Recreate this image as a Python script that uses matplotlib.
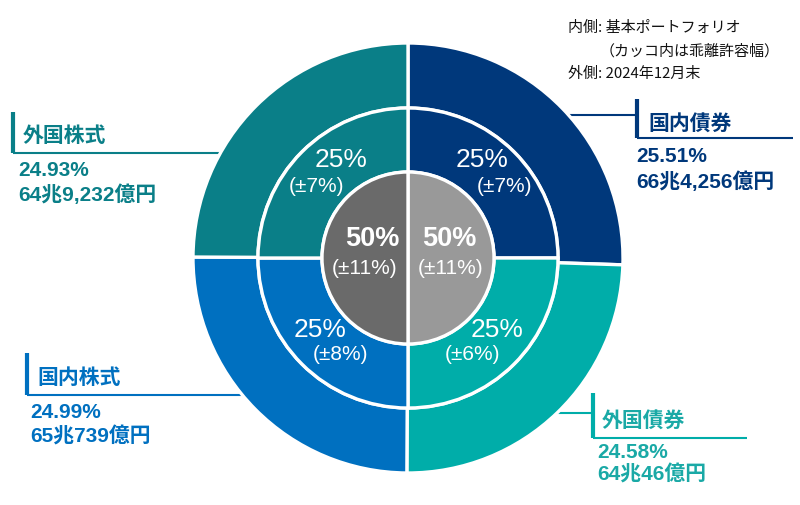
import matplotlib
matplotlib.use('Agg')
import matplotlib.pyplot as plt

# ---- data ----
categories = ['国内債券', '外国債券', '国内株式', '外国株式']
actual_pct = [25.51, 24.58, 24.99, 24.93]
actual_amount = ['66兆4,256億円', '64兆46億円', '65兆739億円', '64兆9,232億円']
policy_pct = [25, 25, 25, 25]
policy_band = [7, 6, 8, 7]
inner_groups = ['債券', '株式']
inner_pct = [50, 50]
inner_band = [11, 11]
note_lines = ['内側: 基本ポートフォリオ', '（カッコ内は乖離許容幅）', '外側: 2024年12月末']

# ---- style ----
colors = ['#00387B', '#00ADA9', '#0070C0', '#0A7F88']
text_colors = ['#00387B', '#1AA9A6', '#0070C0', '#0A7F88']
inner_colors = ['#999999', '#6A6A6A']
FONT = ['Liberation Sans', 'Noto Sans CJK JP', 'DejaVu Sans']
CJK = ['Noto Sans CJK JP', 'DejaVu Sans']

W, H = 800, 505
fig = plt.figure(figsize=(W / 100, H / 100), dpi=100)
ax = fig.add_axes([0, 0, 1, 1])

def Y(y):
    return H - y

cx, cy = 408, Y(258)
R1, R2, R3 = 215, 150, 86
ew = 2.4

callouts = {
    3: dict(lines=[((13, 153), (260, 153))], bar=((13, 112), (13, 153)),
            title=(23, 135), pct=(18, 171), amt=(18, 195)),
    2: dict(lines=[((27, 395), (270, 395))], bar=((27, 353), (27, 395)),
            title=(37, 377), pct=(30, 413), amt=(30, 437)),
    0: dict(lines=[((540, 115), (637, 115)), ((637, 138), (793, 138))], bar=((637, 99), (637, 138)),
            title=(648, 123), pct=(636, 157), amt=(636, 182)),
    1: dict(lines=[((530, 413), (593, 413)), ((593, 438), (747, 438))], bar=((593, 393), (593, 438)),
            title=(602, 420), pct=(597, 453), amt=(597, 475)),
}

for i, c in callouts.items():
    col = colors[i]
    for (x0, y0), (x1, y1) in c['lines']:
        ax.plot([x0, x1], [Y(y0), Y(y1)], color=col, lw=1.5, zorder=0, solid_capstyle='butt')
    (bx0, by0), (bx1, by1) = c['bar']
    ax.plot([bx0, bx1], [Y(by0), Y(by1)], color=col, lw=3.0, zorder=0, solid_capstyle='butt')
    tc = text_colors[i]
    ax.text(c['title'][0], Y(c['title'][1]), categories[i], fontsize=15, fontweight='bold',
            color=tc, family=CJK, ha='left', va='center', zorder=5)
    ax.text(c['pct'][0], Y(c['pct'][1]), f'{actual_pct[i]:.2f}%', fontsize=15, fontweight='bold',
            color=tc, family=FONT, ha='left', va='center', zorder=5)
    ax.text(c['amt'][0], Y(c['amt'][1]), actual_amount[i], fontsize=15, fontweight='bold',
            color=tc, family=FONT, ha='left', va='center', zorder=5)

# rings
ax.pie(actual_pct, radius=R1, center=(cx, cy), startangle=90, counterclock=False,
       colors=colors, wedgeprops=dict(width=R1 - R2, edgecolor='white', linewidth=ew))
ax.pie(policy_pct, radius=R2, center=(cx, cy), startangle=90, counterclock=False,
       colors=colors, wedgeprops=dict(width=R2 - R3, edgecolor='white', linewidth=ew))
ax.pie(inner_pct, radius=R3, center=(cx, cy), startangle=90, counterclock=False,
       colors=inner_colors, wedgeprops=dict(edgecolor='white', linewidth=ew))

# policy labels
policy_pos = [((482, 160), (505, 186)),
              ((497, 330), (472, 355)),
              ((320, 330), (341, 355)),
              ((341, 160), (316, 186))]
for i, ((px, py), (bx, by)) in enumerate(policy_pos):
    ax.text(px, Y(py), f'{policy_pct[i]}%', fontsize=19, color='white', family=FONT,
            ha='center', va='center', zorder=6)
    ax.text(bx, Y(by), f'(±{policy_band[i]}%)', fontsize=15, color='white', family=FONT,
            ha='center', va='center', zorder=6)

inner_pos = [((449, 239), (451, 268)), ((372, 239), (365, 268))]
for i, ((px, py), (bx, by)) in enumerate(inner_pos):
    ax.text(px, Y(py), f'{inner_pct[i]}%', fontsize=19.5, fontweight='bold', color='white',
            family=FONT, ha='center', va='center', zorder=6)
    ax.text(bx, Y(by), f'(±{inner_band[i]}%)', fontsize=15, color='white', family=FONT,
            ha='center', va='center', zorder=6)

# note
note_pos = [(568, 28), (600, 51), (568, 74)]
for (nx, ny), s in zip(note_pos, note_lines):
    ax.text(nx, Y(ny), s, fontsize=10.8, color='#111111', family=CJK, ha='left', va='center')

ax.set_xlim(0, W)
ax.set_ylim(0, H)
ax.set_aspect('equal')
ax.axis('off')
fig.savefig('out.png', dpi=100, facecolor='white')
